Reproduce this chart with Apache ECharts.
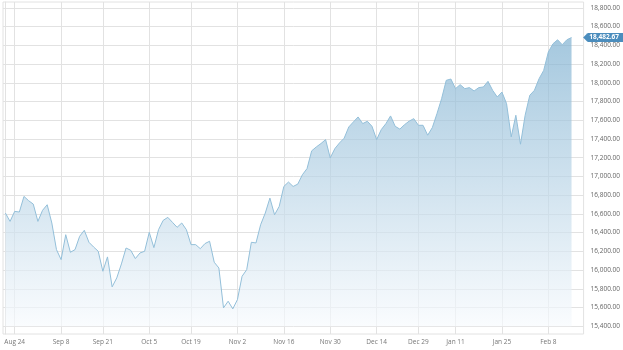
<!DOCTYPE html>
<html>
<head>
<meta charset="utf-8">
<script src="https://cdn.jsdelivr.net/npm/echarts@6/dist/echarts.min.js"></script>
<style>
  html, body { margin: 0; padding: 0; background: #fff; }
  #chart { width: 623px; height: 350px; }
</style>
</head>
<body>
<div id="chart"></div>
<script>
// trading days (TSX), Aug 20 2020 .. Feb 16 2021
const dates = [
  "Aug 20", "Aug 21", "Aug 24", "Aug 25", "Aug 26", "Aug 27", "Aug 28", "Aug 31",
  "Sep 1", "Sep 2", "Sep 3", "Sep 4",
  "Sep 8", "Sep 9", "Sep 10", "Sep 11",
  "Sep 14", "Sep 15", "Sep 16", "Sep 17", "Sep 18",
  "Sep 21", "Sep 22", "Sep 23", "Sep 24", "Sep 25",
  "Sep 28", "Sep 29", "Sep 30", "Oct 1", "Oct 2",
  "Oct 5", "Oct 6", "Oct 7", "Oct 8", "Oct 9",
  "Oct 13", "Oct 14", "Oct 15", "Oct 16",
  "Oct 19", "Oct 20", "Oct 21", "Oct 22", "Oct 23",
  "Oct 26", "Oct 27", "Oct 28", "Oct 29", "Oct 30",
  "Nov 2", "Nov 3", "Nov 4", "Nov 5", "Nov 6",
  "Nov 9", "Nov 10", "Nov 11", "Nov 12", "Nov 13",
  "Nov 16", "Nov 17", "Nov 18", "Nov 19", "Nov 20",
  "Nov 23", "Nov 24", "Nov 25", "Nov 26", "Nov 27",
  "Nov 30", "Dec 1", "Dec 2", "Dec 3", "Dec 4",
  "Dec 7", "Dec 8", "Dec 9", "Dec 10", "Dec 11",
  "Dec 14", "Dec 15", "Dec 16", "Dec 17", "Dec 18",
  "Dec 21", "Dec 22", "Dec 23", "Dec 24",
  "Dec 29", "Dec 30", "Dec 31",
  "Jan 4", "Jan 5", "Jan 6", "Jan 7", "Jan 8",
  "Jan 11", "Jan 12", "Jan 13", "Jan 14", "Jan 15",
  "Jan 18", "Jan 19", "Jan 20", "Jan 21", "Jan 22",
  "Jan 25", "Jan 26", "Jan 27", "Jan 28", "Jan 29",
  "Feb 1", "Feb 2", "Feb 3", "Feb 4", "Feb 5",
  "Feb 8", "Feb 9", "Feb 10", "Feb 11", "Feb 12",
  "Feb 16"
];

const closes = [
  16609, 16520, 16627, 16620, 16787, 16741, 16705, 16520,
  16638, 16698, 16503, 16219,
  16112, 16378, 16190, 16219,
  16361, 16425, 16297, 16247, 16201,
  15988, 16141, 15821, 15917, 16066,
  16236, 16212, 16123, 16183, 16201,
  16403, 16240, 16432, 16531, 16563,
  16510, 16457, 16503, 16432,
  16272, 16272, 16229, 16283, 16308,
  16084, 16023, 15597, 15668, 15586,
  15685, 15934, 16005, 16297, 16290,
  16485, 16609, 16769, 16591, 16680,
  16893, 16940, 16893, 16918, 17018,
  17084, 17273, 17315, 17351, 17393,
  17198, 17297, 17358, 17408, 17528,
  17582, 17635, 17564, 17589, 17535,
  17393, 17500, 17564, 17646, 17535,
  17505, 17552, 17590, 17617,
  17546, 17546, 17440,
  17521, 17670, 17830, 18026, 18040,
  17937, 17980, 17937, 17948, 17912,
  17948, 17955, 18015, 17919, 17848,
  17901, 17777, 17422, 17653, 17344,
  17653, 17866, 17919, 18043, 18132,
  18328, 18416, 18459, 18406, 18459,
  18482.67
];

// dates shown on the x axis
const xLabelDates = ["Aug 24", "Sep 8", "Sep 21", "Oct 5", "Oct 19", "Nov 2", "Nov 16",
  "Nov 30", "Dec 14", "Dec 29", "Jan 11", "Jan 25", "Feb 8"];

const yTicks = [15400, 15600, 15800, 16000, 16200, 16400, 16600, 16800, 17000,
  17200, 17400, 17600, 17800, 18000, 18200, 18400, 18600, 18800];

const xLabelIdx = xLabelDates.map(d => dates.indexOf(d));
const lastIdx = closes.length - 1;
const lastValue = closes[lastIdx];

const fmt = v => Number(v).toLocaleString("en-US", { minimumFractionDigits: 2, maximumFractionDigits: 2 });

const chart = echarts.init(document.getElementById("chart"));

chart.setOption({
  animation: false,
  grid: {
    left: 3,
    right: 39,
    top: 2,
    bottom: 16,
    show: true,
    borderColor: "#e2e2e2",
    borderWidth: 1,
  },
  xAxis: {
    type: "value",
    min: -0.52,
    max: 124.6,
    axisLine: { show: false },
    axisTick: { show: false, customValues: xLabelIdx },
    axisLabel: {
      customValues: xLabelIdx,
      formatter: v => dates[v],
      color: "#777",
      fontFamily: "Open Sans",
      fontSize: 6.5,
      margin: 5,
    },
    splitLine: {
      show: true,
      lineStyle: { color: "#e2e2e2", width: 1 },
    },
  },
  yAxis: {
    type: "value",
    position: "right",
    min: 15318,
    max: 18862,
    axisLine: { show: true, lineStyle: { color: "#e2e2e2" } },
    axisTick: { show: false, customValues: yTicks },
    axisLabel: {
      customValues: yTicks,
      formatter: v => fmt(v),
      color: "#666",
      fontFamily: "Liberation Sans Narrow, Open Sans",
      fontSize: 6.5,
      margin: 7,
    },
    splitLine: {
      show: true,
      lineStyle: { color: "#e2e2e2", width: 1 },
    },
  },
  series: [
    {
      type: "line",
      data: closes.map((v, i) => [i, v]),
      symbol: "none",
      lineStyle: { color: "#93bfd9", width: 1 },
      areaStyle: {
        origin: 15400,
        color: new echarts.graphic.LinearGradient(0, 0, 0, 1, [
          { offset: 0, color: "#7eb0d0" },
          { offset: 1, color: "#f7fafd" },
        ]),
      },
      markPoint: {
        symbol: "path://M0,5 L4,0.5 Q4.5,0 5,0 L40,0 L40,10 L5,10 Q4.5,10 4,9.5 Z",
        symbolSize: [40, 9],
        symbolOffset: [31.6, 0],
        itemStyle: { color: "#4b8dbd" },
        label: {
          show: true,
          position: "inside",
          offset: [1, 0],
          color: "#fff",
          fontWeight: "bold",
          fontFamily: "Open Sans",
          fontSize: 6.5,
          formatter: p => fmt(p.value),
        },
        data: [{ coord: [lastIdx, lastValue], value: lastValue }],
      },
    },
  ],
});
</script>
</body>
</html>
